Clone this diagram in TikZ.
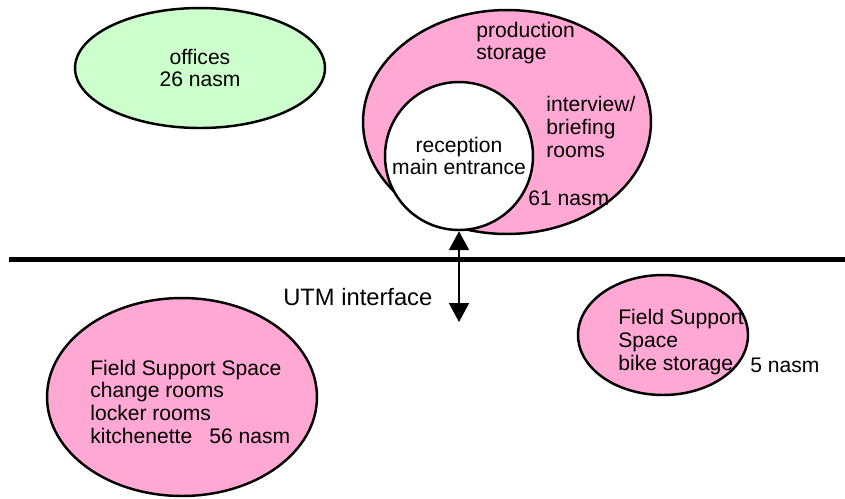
\documentclass[tikz,border=0pt]{standalone}
\usepackage{fontspec}
\setmainfont{Liberation Sans}
\usetikzlibrary{arrows.meta, shapes.geometric}
\definecolor{spacepink}{RGB}{255,168,212}
\definecolor{officegreen}{RGB}{204,255,204}
\begin{document}
\begin{tikzpicture}[x=0.02cm, y=-0.02cm, >={Triangle[width=0.4cm, length=0.38cm]},
                    every node/.style={font=\fontsize{12}{12.9}\selectfont, inner sep=0pt},
                    zone/.style={ellipse, draw, line width=1.4pt},
                    roomtext/.style={align=left, anchor=west} ]

                                \useasboundingbox (0,0) rectangle (845,498);

                                \node (offices) [zone, fill=officegreen, minimum width=5cm, minimum height=2.4cm, align=center] at (200,68) {offices\\26 nasm};
                                \node (production) [zone, fill=spacepink, minimum width=5.76cm, minimum height=4.48cm] at (507,122) {};
                                \node (reception) [circle, draw, line width=1.4pt, fill=white, minimum size=2.96cm, align=center] at (459,156) {reception\\main entrance};
                                \node (fieldspace) [zone, fill=spacepink, minimum width=5.4cm, minimum height=3.96cm] at (182,397) {};
                                \node (bikespace) [zone, fill=spacepink, minimum width=3.4cm, minimum height=2.4cm] at (663,335) {};

                                \node (prodtext) [roomtext] at (476,43) {production\\storage};
                                \node (interview) [roomtext] at (546,127) {interview/\\briefing\\rooms};
                                \node (prodarea) [roomtext] at (528,198) {61 nasm};
                                \node (fieldtext) [roomtext] at (90,401.5) {Field Support Space\\change rooms\\locker rooms\\kitchenette\hspace{0.34cm}56 nasm};
                                \node (biketext) [roomtext] at (618,342) {Field Support\\Space\\bike storage};
                                \node (bikearea) [roomtext] at (750,365) {5 nasm};
                                \node (utm) [roomtext, font=\fontsize{13.5}{15}\selectfont] at (283,297) {UTM interface};

                                \coordinate (wallW) at (9,259.5);
                                \coordinate (wallE) at (845,259.5);
                                \coordinate (utmEnd) at (459,322);

                                \draw[line width=3.4pt] (wallW) -- (wallE);
                                \draw[<->, line width=1.1pt] (reception.south) -- (utmEnd);
                        \end{tikzpicture}
\end{document}
